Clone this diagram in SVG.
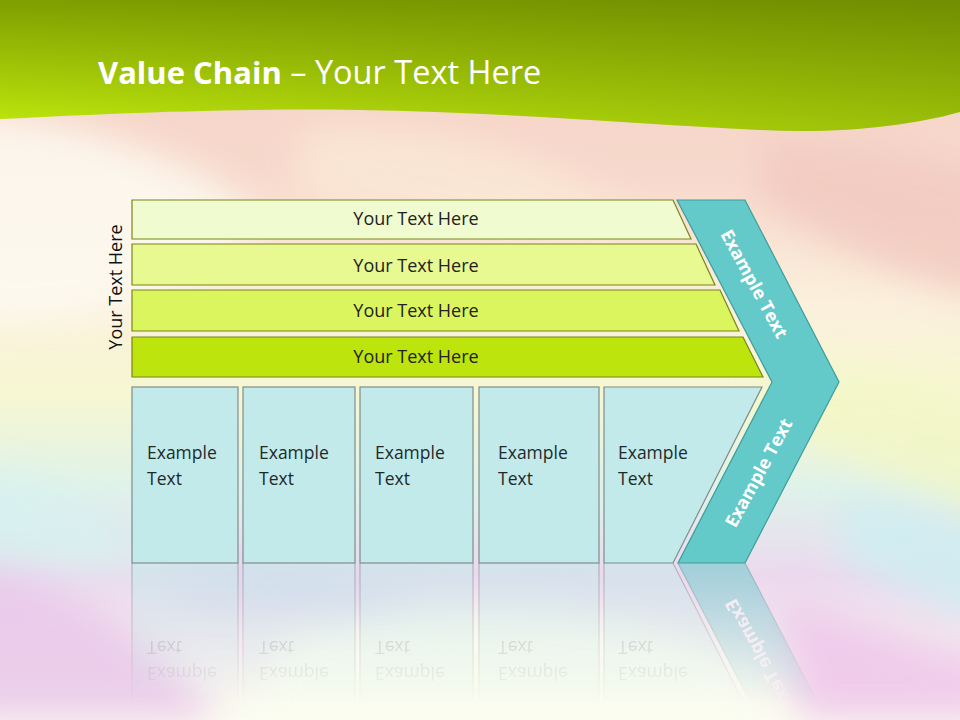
<svg xmlns="http://www.w3.org/2000/svg" width="960" height="720" viewBox="0 0 960 720">
  <defs>
    <linearGradient id="bg" x1="0" y1="0" x2="0" y2="1">
      <stop offset="0" stop-color="#f4cfc3"/>
      <stop offset="0.25" stop-color="#f7dacd"/>
      <stop offset="0.42" stop-color="#fbf0dc"/>
      <stop offset="0.55" stop-color="#f6f7d2"/>
      <stop offset="0.68" stop-color="#dff2ea"/>
      <stop offset="0.8" stop-color="#ecd9ee"/>
      <stop offset="1" stop-color="#fbfcf0"/>
    </linearGradient>
    <linearGradient id="hdrV" x1="0" y1="0" x2="0" y2="125" gradientUnits="userSpaceOnUse">
      <stop offset="0" stop-color="#7f9e00"/>
      <stop offset="1" stop-color="#bee60c"/>
    </linearGradient>
    <linearGradient id="hdrH" x1="0" y1="0" x2="960" y2="0" gradientUnits="userSpaceOnUse">
      <stop offset="0" stop-color="#4f6a00" stop-opacity="0"/>
      <stop offset="1" stop-color="#4f6a00" stop-opacity="0.32"/>
    </linearGradient>
    <linearGradient id="fade" x1="0" y1="563" x2="0" y2="705" gradientUnits="userSpaceOnUse">
      <stop offset="0" stop-color="#fff" stop-opacity="0.55"/>
      <stop offset="1" stop-color="#fff" stop-opacity="0"/>
    </linearGradient>
    <mask id="reflMask" maskUnits="userSpaceOnUse" x="0" y="560" width="960" height="160">
      <rect x="0" y="563" width="960" height="157" fill="url(#fade)"/>
    </mask>
    <filter id="blur" x="-20%" y="-20%" width="140%" height="140%">
      <feGaussianBlur stdDeviation="18"/>
    </filter>
    <style>
      .bar { stroke: #76861c; stroke-width: 1.2; }
      .barTxt { font-family: "Open Sans", "Liberation Sans", sans-serif; font-size: 18px; fill: #222; text-anchor: middle; }
      .box { fill: #c3eaea; stroke: #7f8c8c; stroke-width: 1.2; }
      .boxTxt { font-family: "Open Sans", "Liberation Sans", sans-serif; font-size: 17.5px; fill: #1e2a2a; }
      .chev { fill: #63c9c9; stroke: #3f9c9c; stroke-width: 1.2; }
      .chevTxt { font-family: "Open Sans", "Liberation Sans", sans-serif; font-size: 18px; font-weight: bold; fill: #ffffff; text-anchor: middle; }
      .title { font-family: "Open Sans", "Liberation Sans", sans-serif; font-size: 32.5px; fill: #ffffff; }
    </style>
  </defs>

  <!-- background -->
  <rect x="0" y="0" width="960" height="720" fill="url(#bg)"/>
  <g filter="url(#blur)" opacity="0.85">
    <path d="M-40,110 C80,120 200,160 260,220 C200,300 80,330 -40,320 Z" fill="#fdfbf2"/>
    <path d="M300,130 C420,120 560,150 640,230 C560,260 420,220 300,200 Z" fill="#fbe8d6"/>
    <path d="M760,140 C860,140 960,160 1000,180 L1000,300 C900,280 820,240 760,200 Z" fill="#f2c9c0"/>
    <path d="M760,380 C860,360 960,380 1000,420 L1000,520 C900,480 820,450 760,420 Z" fill="#f3f7c6"/>
    <path d="M-40,470 C60,480 120,520 160,560 C100,580 20,560 -40,560 Z" fill="#d6f2f0"/>
    <path d="M840,500 C920,500 980,520 1000,540 L1000,620 C940,610 880,580 840,560 Z" fill="#cdeef2"/>
    <path d="M-40,560 C60,570 160,640 220,720 L-40,720 Z" fill="#eac8ea"/>
    <path d="M780,600 C860,620 940,650 1000,660 L1000,720 L800,720 Z" fill="#efc6ea"/>
    <path d="M280,640 C400,600 560,600 700,640 C760,680 760,720 760,740 L240,740 Z" fill="#fafdf0"/>
    <path d="M180,560 C260,530 340,560 420,600 C340,620 260,600 180,600 Z" fill="#e0d6ee"/>
  </g>

  <!-- header -->
  <g id="header">
    <path d="M0,0 H960 V112 C910,126 840,134 760,130 C640,124 500,112 360,110 C220,108 100,114 0,119 Z" fill="url(#hdrV)"/>
    <path d="M0,0 H960 V112 C910,126 840,134 760,130 C640,124 500,112 360,110 C220,108 100,114 0,119 Z" fill="url(#hdrH)"/>
    <text class="title" x="98" y="84"><tspan font-weight="bold" font-size="31px">Value Chain</tspan> – Your Text Here</text>
  </g>

  <!-- vertical label -->
  <g id="side-label">
    <text x="122" y="287" transform="rotate(-90 122 287)" style="font-family: 'Open Sans', 'Liberation Sans', sans-serif; font-size: 18px; fill: #111; text-anchor: middle;">Your Text Here</text>
  </g>

  <!-- support bars -->
  <g id="bar1">
    <path class="bar" d="M132,200 H673 L691,239 H132 Z" fill="#f1fbd0"/>
    <text class="barTxt" x="416" y="225">Your Text Here</text>
  </g>
  <g id="bar2">
    <path class="bar" d="M132,244 H696 L715,285 H132 Z" fill="#e8f991"/>
    <text class="barTxt" x="416" y="272">Your Text Here</text>
  </g>
  <g id="bar3">
    <path class="bar" d="M132,290 H720 L739,331 H132 Z" fill="#dbf55f"/>
    <text class="barTxt" x="416" y="317">Your Text Here</text>
  </g>
  <g id="bar4">
    <path class="bar" d="M132,337 H743 L763,377 H132 Z" fill="#bde40d"/>
    <text class="barTxt" x="416" y="363">Your Text Here</text>
  </g>

  <!-- primary boxes -->
  <g id="box1">
    <rect class="box" x="132" y="387" width="106" height="176"/>
    <text class="boxTxt" x="147" y="459">Example</text>
    <text class="boxTxt" x="147" y="485">Text</text>
  </g>
  <g id="box2">
    <rect class="box" x="243" y="387" width="112" height="176"/>
    <text class="boxTxt" x="259" y="459">Example</text>
    <text class="boxTxt" x="259" y="485">Text</text>
  </g>
  <g id="box3">
    <rect class="box" x="360" y="387" width="113" height="176"/>
    <text class="boxTxt" x="375" y="459">Example</text>
    <text class="boxTxt" x="375" y="485">Text</text>
  </g>
  <g id="box4">
    <rect class="box" x="479" y="387" width="120" height="176"/>
    <text class="boxTxt" x="498" y="459">Example</text>
    <text class="boxTxt" x="498" y="485">Text</text>
  </g>
  <g id="box5">
    <path class="box" d="M604,387 H762 L673,563 H604 Z"/>
    <text class="boxTxt" x="618" y="459">Example</text>
    <text class="boxTxt" x="618" y="485">Text</text>
  </g>

  <!-- chevron -->
  <g id="chevron">
    <path class="chev" d="M677,200 H745 L839,382 L745,563 H678 L772,382 Z"/>
    <text class="chevTxt" x="754" y="290" transform="rotate(61.5 754 284)">Example Text</text>
    <text class="chevTxt" x="759" y="479" transform="rotate(-61.5 759 473)">Example Text</text>
  </g>

  <!-- reflection -->
  <g id="reflection" mask="url(#reflMask)">
    <g transform="translate(0,1126) scale(1,-1)">
      <rect class="box" x="132" y="387" width="106" height="176"/>
      <rect class="box" x="243" y="387" width="112" height="176"/>
      <rect class="box" x="360" y="387" width="113" height="176"/>
      <rect class="box" x="479" y="387" width="120" height="176"/>
      <path class="box" d="M604,387 H762 L673,563 H604 Z"/>
      <path class="chev" d="M677,200 H745 L839,382 L745,563 H678 L772,382 Z"/>
      <g fill-opacity="0.6">
        <text class="boxTxt" x="147" y="459">Example</text>
        <text class="boxTxt" x="147" y="485">Text</text>
        <text class="boxTxt" x="259" y="459">Example</text>
        <text class="boxTxt" x="259" y="485">Text</text>
        <text class="boxTxt" x="375" y="459">Example</text>
        <text class="boxTxt" x="375" y="485">Text</text>
        <text class="boxTxt" x="498" y="459">Example</text>
        <text class="boxTxt" x="498" y="485">Text</text>
        <text class="boxTxt" x="618" y="459">Example</text>
        <text class="boxTxt" x="618" y="485">Text</text>
      </g>
      <text class="chevTxt" x="759" y="479" transform="rotate(-61.5 759 473)">Example Text</text>
    </g>
  </g>
</svg>
